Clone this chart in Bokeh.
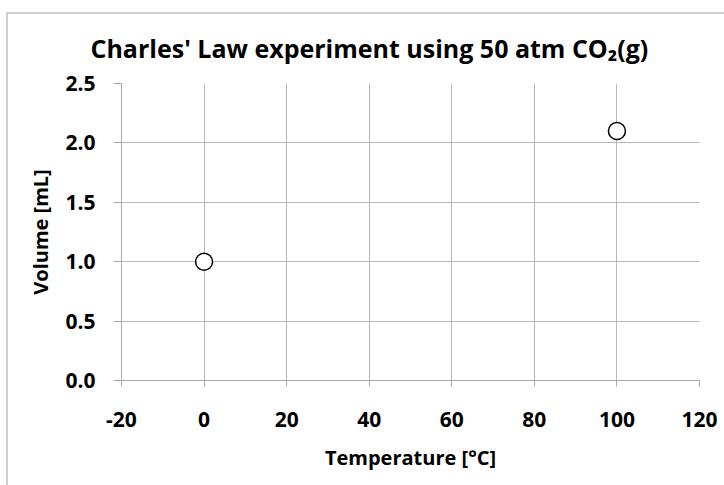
from bokeh.plotting import figure
from bokeh.models import Range1d, FixedTicker, PrintfTickFormatter
from bokeh.embed import file_html
from bokeh.resources import INLINE

# ---- data ----
temperature_c = [0, 100]
volume_ml = [1.0, 2.1]
x_ticks = [-20, 0, 20, 40, 60, 80, 100, 120]
x_tick_labels = ["-20", "0", "20", "40", "60", "80", "100", "120"]
y_ticks = [0.0, 0.5, 1.0, 1.5, 2.0, 2.5]
title_text = "Charles' Law experiment using 50 atm CO₂(g)"
x_label = "Temperature [°C]"
y_label = "Volume [mL]"

FONT = "'Open Sans', 'Noto Sans'"

p = figure(width=724, height=485, output_backend="svg", toolbar_location=None,
           x_range=Range1d(-20, 120), y_range=Range1d(0, 2.5),
           min_border_left=121, min_border_right=25, min_border_top=83, min_border_bottom=105)
# outer chart border drawn as the page background behind a transparent canvas border
p.styles = {"background": "linear-gradient(#cfcfcf, #cfcfcf) 6px 12px / 2px 100% no-repeat, "
                          "linear-gradient(#cfcfcf, #cfcfcf) 6px 12px / 100% 2px no-repeat, white"}
p.outline_line_color = None
p.background_fill_color = "white"
p.border_fill_color = None

p.title.text = title_text
p.title.text_font = FONT
p.title.text_font_style = "bold"
p.title.text_font_size = "25px"
p.title.text_color = "black"
p.title.align = "left"
p.title.offset = -31
p.title.standoff = 38

grid_color = "#b8b8b8"
p.xgrid.ticker = FixedTicker(ticks=x_ticks)
p.ygrid.ticker = FixedTicker(ticks=y_ticks)
p.xgrid.grid_line_color = grid_color
p.ygrid.grid_line_color = grid_color

p.xaxis.ticker = FixedTicker(ticks=x_ticks)
p.xaxis.major_label_overrides = {t: s for t, s in zip(x_ticks, x_tick_labels)}
p.yaxis.ticker = FixedTicker(ticks=y_ticks)
p.yaxis.formatter = PrintfTickFormatter(format="%.1f")

for ax in (p.xaxis[0], p.yaxis[0]):
    ax.axis_line_color = "#a8a8a8"
    ax.major_tick_line_color = "#a8a8a8"
    ax.minor_tick_line_color = None
    ax.major_tick_in = 0
    ax.major_label_text_font = FONT
    ax.major_label_text_font_style = "bold"
    ax.major_label_text_font_size = "21px"
    ax.major_label_text_color = "black"
    ax.axis_label_text_font = FONT
    ax.axis_label_text_font_style = "bold"
    ax.axis_label_text_font_size = "20px"
    ax.axis_label_text_color = "black"

p.xaxis.major_tick_out = 6
p.yaxis.major_tick_out = 8
p.xaxis.major_label_standoff = 25
p.yaxis.major_label_standoff = 18
p.xaxis.axis_label = x_label
p.yaxis.axis_label = y_label
p.xaxis.axis_label_standoff = 14
p.yaxis.axis_label_standoff = 8

p.scatter(temperature_c, volume_ml, size=17, fill_color="white", line_color="black", line_width=1.5)

open("out.html", "w").write(file_html(p, INLINE))
